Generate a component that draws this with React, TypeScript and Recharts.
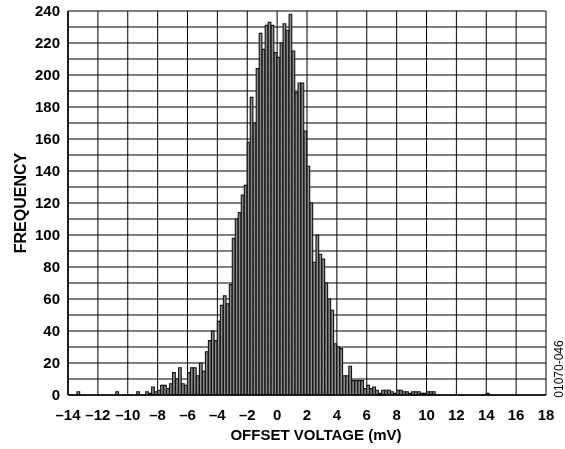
import React from 'react';
import { BarChart, Bar, XAxis, YAxis, CartesianGrid } from 'recharts';

// Histogram bins: 0.2 mV wide, from -14 mV to 18 mV
const binStart = -14;
const binWidth = 0.2;

// Frequency per bin
const counts = [
  0, 0, 0, 2, 0, 0, 0, 0, 0, 0,
  0, 0, 0, 0, 0, 0, 2, 0, 0, 0,
  0, 0, 0, 2, 0, 0, 2, 1, 5, 2,
  3, 6, 6, 4, 7, 14, 10, 17, 7, 6,
  14, 17, 17, 12, 20, 15, 27, 34, 40, 34,
  46, 56, 62, 57, 69, 98, 110, 114, 125, 131,
  158, 186, 170, 204, 226, 216, 231, 233, 231, 214,
  211, 220, 232, 228, 238, 215, 189, 195, 195, 165,
  143, 120, 83, 100, 88, 85, 70, 60, 53, 32,
  30, 29, 12, 12, 18, 9, 9, 9, 9, 4,
  6, 4, 5, 3, 1, 3, 3, 3, 2, 1,
  3, 3, 2, 2, 1, 2, 2, 2, 1, 1,
  2, 2, 2, 0, 0, 0, 0, 0, 0, 0,
  0, 0, 0, 0, 0, 0, 0, 0, 0, 0,
  1, 0, 0, 0, 0, 0, 0, 0, 0, 0,
  0, 0, 0, 0, 0, 0, 0, 0, 0, 0,
];

const xTicks = [-14, -12, -10, -8, -6, -4, -2, 0, 2, 4, 6, 8, 10, 12, 14, 16, 18];
const yTicks = [
  0, 10, 20, 30, 40, 50, 60, 70, 80, 90, 100, 110, 120,
  130, 140, 150, 160, 170, 180, 190, 200, 210, 220, 230, 240,
];
const yLabelStep = 20;

const data = counts.map((f, i) => ({
  v: Number((binStart + binWidth * (i + 0.5)).toFixed(2)),
  f,
}));

const FONT = '"Liberation Sans", Arial, Helvetica, sans-serif';

const fmtX = (v: number) => (v < 0 ? `\u2013${Math.abs(v)}` : `${v}`);
const fmtY = (v: number) => (v % yLabelStep === 0 ? `${v}` : '');

const tickStyle = { fontFamily: FONT, fontWeight: 'bold', fontSize: 15, fill: '#000' };
const titleStyle = { fontFamily: FONT, fontWeight: 'bold', fontSize: 15, fill: '#000' };

export default function App() {
  return (
    <div style={{ position: 'fixed', left: 0, top: 0, width: 565, height: 449 }}>
      <BarChart
        width={565}
        height={449}
        data={data}
        margin={{ top: 11, right: 19, bottom: 4, left: 16 }}
        barCategoryGap={0}
        barGap={0}
      >
        <CartesianGrid stroke="#000" strokeWidth={1} />
        <XAxis
          dataKey="v"
          type="number"
          domain={[-14, 18]}
          ticks={xTicks}
          interval={0}
          tickFormatter={fmtX}
          tick={tickStyle}
          tickLine={false}
          tickMargin={8}
          axisLine={{ stroke: '#000', strokeWidth: 1.5 }}
          height={50}
          allowDataOverflow
          label={{
            value: 'OFFSET VOLTAGE (mV)',
            position: 'insideBottom',
            offset: 5,
            dx: 9,
            style: titleStyle,
          }}
        />
        <YAxis
          type="number"
          domain={[0, 240]}
          ticks={yTicks}
          interval={0}
          tickFormatter={fmtY}
          tick={tickStyle}
          tickLine={false}
          axisLine={{ stroke: '#000', strokeWidth: 1.5 }}
          width={52}
          allowDataOverflow
          label={{
            value: 'FREQUENCY',
            angle: -90,
            position: 'insideLeft',
            offset: 4,
            style: { ...titleStyle, fontSize: 16, textAnchor: 'middle' },
          }}
        />
        <Bar
          dataKey="f"
          fill="#8e8e8e"
          stroke="#111"
          strokeWidth={1.1}
          barSize={3}
          isAnimationActive={false}
        />
      </BarChart>
      <svg
        width={565}
        height={449}
        style={{ position: 'absolute', left: 0, top: 0, pointerEvents: 'none' }}
      >
        <text
          x={563}
          y={369}
          transform="rotate(-90 563 369)"
          textAnchor="middle"
          fontFamily={FONT}
          fontSize={12}
          fill="#000"
        >
          01070-046
        </text>
      </svg>
    </div>
  );
}
